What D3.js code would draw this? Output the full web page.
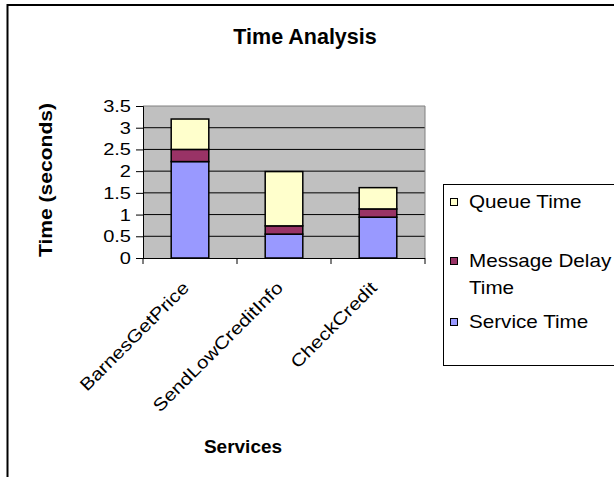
<!DOCTYPE html>
<html>
<head>
<meta charset="utf-8">
<script src="https://cdn.jsdelivr.net/npm/d3@7"></script>
<style>
  html, body { margin: 0; padding: 0; background: #fff; }
  svg { display: block; font-family: "Liberation Sans", Arial, sans-serif; }
</style>
</head>
<body>
<div id="chart"></div>
<script>
// data (seconds)
const services = ["BarnesGetPrice", "SendLowCreditInfo", "CheckCredit"];
const serviceTime = [2.22, 0.55, 0.94];
const messageDelayTime = [0.28, 0.19, 0.19];
const queueTime = [0.70, 1.25, 0.49];
const seriesNames = ["Service Time", "Message Delay Time", "Queue Time"];
const seriesColors = ["#9999FF", "#993366", "#FFFFCC"];
const yTicks = [0, 0.5, 1, 1.5, 2, 2.5, 3, 3.5];

const W = 614, H = 477;
const plot = { left: 143, right: 425, top: 106, bottom: 258 };
const stretch = 1.18; // the reference's plain text is wider than Arial

const svg = d3.select("#chart").append("svg")
  .attr("width", W).attr("height", H);

// chart frame (runs off the right and bottom edges)
svg.append("path")
  .attr("d", `M7.5,${H + 5} V5 H${W + 5}`)
  .attr("fill", "none").attr("stroke", "#000").attr("stroke-width", 2);

const x = d3.scaleBand().domain(services)
  .range([plot.left, plot.right]).paddingInner(0.6).paddingOuter(0.3);
const xEdges = d3.scaleLinear().domain([0, services.length])
  .range([plot.left, plot.right]);
const y = d3.scaleLinear().domain([0, 3.5]).range([plot.bottom, plot.top]);

// plot background
svg.append("rect")
  .attr("x", plot.left).attr("y", plot.top)
  .attr("width", plot.right - plot.left).attr("height", plot.bottom - plot.top)
  .attr("fill", "#C0C0C0");

// gridlines
svg.append("g").selectAll("line")
  .data(yTicks.filter(d => d > 0 && d < 3.5))
  .join("line")
  .attr("x1", plot.left).attr("x2", plot.right)
  .attr("y1", d => y(d)).attr("y2", d => y(d))
  .attr("stroke", "#000").attr("stroke-width", 1);

// top and right border of plot area
svg.append("path")
  .attr("d", `M${plot.left},${y(3.5)} H${plot.right} V${plot.bottom}`)
  .attr("fill", "none").attr("stroke", "#808080").attr("stroke-width", 1);

// stacked bars
const rows = services.map((s, i) => ({
  service: s,
  "Service Time": serviceTime[i],
  "Message Delay Time": messageDelayTime[i],
  "Queue Time": queueTime[i]
}));
const stacked = d3.stack().keys(seriesNames)(rows);

svg.append("g").selectAll("g")
  .data(stacked)
  .join("g")
  .attr("fill", (d, i) => seriesColors[i])
  .selectAll("rect")
  .data(d => d)
  .join("rect")
  .attr("x", d => x(d.data.service))
  .attr("width", x.bandwidth())
  .attr("y", d => y(d[1]))
  .attr("height", d => y(d[0]) - y(d[1]))
  .attr("stroke", "#000").attr("stroke-width", 1.5);

// y axis
const yAxis = d3.axisLeft(y).tickValues(yTicks).tickSize(7).tickPadding(5)
  .tickFormat(d => String(d));
const yg = svg.append("g")
  .attr("transform", `translate(${plot.left},0)`)
  .call(yAxis);
yg.select(".domain").attr("stroke", "#000");
yg.selectAll(".tick line").attr("stroke", "#000");
yg.selectAll(".tick text")
  .attr("font-size", 17).attr("fill", "#000")
  .attr("font-family", "Liberation Sans, Arial, sans-serif")
  .attr("transform", function() {
    const xx = +d3.select(this).attr("x");
    return `translate(${xx},0) scale(${stretch},1) translate(${-xx},0)`;
  });

// x axis: ticks on category edges, labels rotated
const xg = svg.append("g");
xg.append("line")
  .attr("x1", plot.left).attr("x2", plot.right)
  .attr("y1", plot.bottom + 0.5).attr("y2", plot.bottom + 0.5)
  .attr("stroke", "#000");
xg.selectAll(".edge")
  .data(d3.range(services.length + 1))
  .join("line")
  .attr("x1", d => xEdges(d)).attr("x2", d => xEdges(d))
  .attr("y1", plot.bottom).attr("y2", plot.bottom + 6)
  .attr("stroke", "#000");
xg.selectAll(".lbl")
  .data(services)
  .join("text")
  .attr("text-anchor", "end")
  .attr("font-size", 17.5)
  .attr("transform", d =>
    `translate(${x(d) + x.bandwidth() / 2},${plot.bottom + 31}) rotate(-45) scale(${stretch},1)`)
  .text(d => d);

// titles
svg.append("text")
  .attr("x", 305).attr("y", 44)
  .attr("text-anchor", "middle")
  .attr("font-size", 21.5).attr("font-weight", "bold")
  .text("Time Analysis");

svg.append("text")
  .attr("text-anchor", "middle")
  .attr("font-size", 19).attr("font-weight", "bold")
  .attr("textLength", 154).attr("lengthAdjust", "spacingAndGlyphs")
  .attr("transform", `translate(52,180) rotate(-90)`)
  .text("Time (seconds)");

svg.append("text")
  .attr("x", 243).attr("y", 453)
  .attr("text-anchor", "middle")
  .attr("font-size", 19).attr("font-weight", "bold")
  .text("Services");

// legend (box runs off the right edge)
const legend = svg.append("g");
legend.append("rect")
  .attr("x", 443.5).attr("y", 184.5)
  .attr("width", 200).attr("height", 181)
  .attr("fill", "#fff").attr("stroke", "#000").attr("stroke-width", 1);

const legendItems = [
  { name: "Queue Time", lines: ["Queue Time"], color: seriesColors[2], base: 208 },
  { name: "Message Delay Time", lines: ["Message Delay", "Time"], color: seriesColors[1], base: 267 },
  { name: "Service Time", lines: ["Service Time"], color: seriesColors[0], base: 328 }
];
const li = legend.selectAll(".item")
  .data(legendItems)
  .join("g");
li.append("rect")
  .attr("x", 450.5).attr("y", d => d.base - 9.5)
  .attr("width", 7).attr("height", 7)
  .attr("fill", d => d.color).attr("stroke", "#000").attr("stroke-width", 1);
li.each(function(d) {
  d.lines.forEach((line, k) => {
    d3.select(this).append("text")
      .attr("font-size", 17.5)
      .attr("transform", `translate(469,${d.base + k * 26.5}) scale(${stretch},1)`)
      .text(line);
  });
});
</script>
</body>
</html>
